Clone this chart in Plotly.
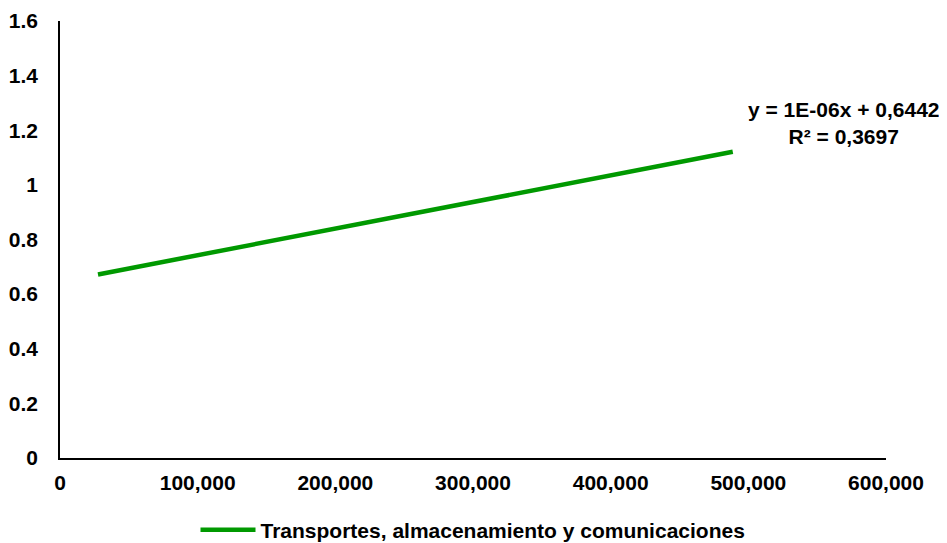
import plotly.graph_objects as go

series_name = "Transportes, almacenamiento y comunicaciones"
x_vals = [27600, 488700]
y_vals = [0.672, 1.121]
eq_text = "y = 1E-06x + 0,6442<br>R² = 0,3697"
x_ticks = [0, 100000, 200000, 300000, 400000, 500000, 600000]
x_tick_labels = ["0", "100,000", "200,000", "300,000", "400,000", "500,000", "600,000"]
y_ticks = [0, 0.2, 0.4, 0.6, 0.8, 1, 1.2, 1.4, 1.6]
y_tick_labels = ["0", "0.2", "0.4", "0.6", "0.8", "1", "1.2", "1.4", "1.6"]

font_family = "Liberation Sans, Arial, sans-serif"
fs = 21

fig = go.Figure()
fig.add_trace(go.Scatter(
    x=x_vals, y=y_vals, mode="lines", name=series_name,
    line=dict(color="rgb(0,153,0)", width=4.5),
    showlegend=True,
))

fig.add_annotation(
    x=569500, y=1.225, xref="x", yref="y", text=eq_text, showarrow=False,
    font=dict(family=font_family, size=fs, color="black", weight="bold"), align="center",
)

tickfont = dict(family=font_family, size=fs, color="black", weight="bold")
fig.update_layout(
    width=939, height=535,
    margin=dict(l=52, r=61, t=13, b=85, autoexpand=False),
    plot_bgcolor="white", paper_bgcolor="white",
    font=dict(family=font_family, size=fs, color="black"),
    showlegend=True,
    legend=dict(orientation="h", x=0.5, xanchor="center", y=-0.165, yanchor="middle",
                itemwidth=55,
                font=dict(family=font_family, size=fs, color="black", weight="bold")),
    xaxis=dict(range=[0, 600000], tickvals=x_ticks, ticktext=x_tick_labels, automargin=False,
               showgrid=False, zeroline=False, showline=True, linecolor="black", linewidth=1.5,
               ticks="", ticklabelstandoff=5, tickfont=tickfont),
    yaxis=dict(range=[0, 1.6], tickvals=y_ticks, ticktext=y_tick_labels, automargin=False,
               showgrid=False, zeroline=False, showline=True, linecolor="black", linewidth=1.5,
               ticks="", ticklabelstandoff=16, tickfont=tickfont),
)

fig.write_html("out.html")
